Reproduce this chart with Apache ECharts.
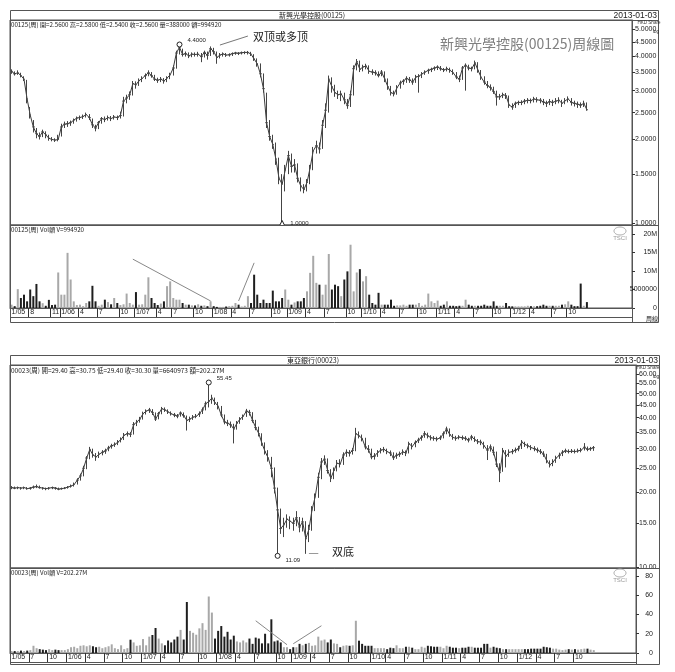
<!DOCTYPE html>
<html><head><meta charset="utf-8">
<script src="https://cdn.jsdelivr.net/npm/echarts@6/dist/echarts.min.js"></script>
<style>html,body{margin:0;padding:0;background:#fff}#c{width:675px;height:672px}</style>
</head><body><div id="c"></div>
<script>
// ===== 00125 新興光學控股 (half-month periods) =====
const topClose = [3.52,3.45,3.48,3.40,3.30,2.80,2.45,2.22,2.10,2.05, 2.13,2.08,2.02,2.00,1.99,2.00,2.22,2.27,2.28,2.30, 2.35,2.39,2.40,2.42,2.46,2.40,2.26,2.20,2.30,2.38, 2.36,2.40,2.38,2.41,2.40,2.44,2.75,2.82,2.90,3.18, 3.15,3.26,3.32,3.40,3.48,3.40,3.30,3.27,3.30,3.25, 3.33,3.42,3.62,4.10,4.30,4.05,4.08,4.00,4.06,4.05, 4.06,3.98,4.12,4.02,4.25,4.15,3.95,4.03,4.07,4.03, 4.04,4.08,4.10,4.09,4.11,4.12,4.12,4.06,3.90,3.75, 3.45,3.05,2.30,2.05,1.92,1.70,1.45,1.38,1.55,1.75, 1.60,1.62,1.45,1.36,1.32,1.40,1.58,1.82,1.90,1.85, 2.25,2.55,3.30,3.10,2.95,2.90,2.92,2.78,2.65,2.90, 3.60,3.82,3.58,3.65,3.68,3.52,3.50,3.48,3.40,3.50, 3.30,3.10,2.95,2.92,3.08,3.20,3.25,3.32,3.28,3.22, 3.36,3.38,3.45,3.50,3.55,3.58,3.62,3.65,3.60,3.56, 3.60,3.55,3.48,3.36,3.30,3.62,3.70,3.62,3.60,3.78, 3.55,3.35,3.22,3.13,3.08,2.98,2.85,2.85,2.90,2.88, 2.66,2.62,2.70,2.72,2.72,2.75,2.77,2.76,2.80,2.78, 2.77,2.73,2.70,2.74,2.72,2.75,2.77,2.70,2.76,2.80, 2.72,2.70,2.68,2.66,2.70,2.56];
const topHigh = [3.58,3.52,3.55,3.48,3.38,3.28,2.62,2.35,2.20,2.12, 2.17,2.14,2.08,2.04,2.02,2.08,2.28,2.32,2.33,2.34, 2.38,2.42,2.44,2.46,2.50,2.47,2.38,2.26,2.33,2.41, 2.42,2.44,2.43,2.45,2.44,2.52,2.85,2.90,2.98,3.25, 3.24,3.32,3.38,3.46,3.55,3.50,3.42,3.34,3.36,3.33, 3.38,3.48,3.70,4.18,4.40,4.25,4.15,4.12,4.12,4.12, 4.14,4.10,4.18,4.15,4.33,4.28,4.15,4.10,4.12,4.10, 4.09,4.12,4.14,4.13,4.15,4.16,4.17,4.14,4.06,3.92, 3.76,3.46,2.95,2.35,2.08,1.95,1.72,1.50,1.62,1.82, 1.78,1.70,1.64,1.46,1.38,1.44,1.62,1.88,1.98,1.95, 2.35,2.70,3.40,3.35,3.15,3.00,3.00,2.95,2.80,3.00, 3.70,3.90,3.85,3.72,3.75,3.70,3.58,3.55,3.52,3.56, 3.52,3.32,3.12,3.00,3.14,3.26,3.30,3.38,3.36,3.32, 3.42,3.44,3.50,3.55,3.60,3.63,3.67,3.70,3.68,3.62, 3.66,3.63,3.58,3.50,3.40,3.68,3.76,3.72,3.66,3.85, 3.80,3.56,3.38,3.25,3.16,3.10,3.00,2.92,2.95,2.94, 2.88,2.70,2.74,2.76,2.77,2.80,2.82,2.81,2.85,2.84, 2.82,2.80,2.76,2.80,2.78,2.82,2.84,2.78,2.82,2.86, 2.82,2.76,2.74,2.72,2.76,2.72];
const topLow = [3.45,3.40,3.42,3.35,3.25,2.70,2.38,2.12,2.02,2.00, 2.04,2.02,1.98,1.97,1.96,1.97,2.05,2.20,2.22,2.24, 2.28,2.32,2.35,2.37,2.40,2.35,2.20,2.14,2.18,2.28, 2.31,2.34,2.33,2.36,2.35,2.38,2.42,2.70,2.78,2.88, 3.05,3.12,3.22,3.30,3.38,3.34,3.25,3.20,3.22,3.18, 3.22,3.30,3.40,3.60,4.05,3.98,3.98,3.93,3.96,3.98, 3.98,3.80,3.95,3.88,4.00,4.05,3.75,3.92,3.98,3.97, 3.98,4.00,4.04,4.03,4.05,4.06,4.05,4.00,3.84,3.66, 3.35,2.95,2.20,1.98,1.85,1.62,1.38,1.00,1.30,1.50, 1.52,1.52,1.40,1.30,1.28,1.30,1.38,1.55,1.78,1.78, 1.85,2.20,2.50,2.95,2.85,2.80,2.75,2.68,2.58,2.62, 2.88,3.55,3.50,3.52,3.58,3.45,3.42,3.40,3.35,3.38, 3.22,3.02,2.88,2.86,2.90,3.05,3.15,3.20,3.20,3.15, 3.20,2.95,3.33,3.42,3.45,3.50,3.54,3.56,3.54,3.50, 3.52,3.48,3.42,3.30,3.22,3.28,3.00,3.55,3.52,3.58, 3.48,3.28,3.15,3.06,3.00,2.92,2.65,2.78,2.82,2.80, 2.60,2.56,2.60,2.66,2.66,2.68,2.70,2.70,2.72,2.72, 2.70,2.66,2.62,2.66,2.64,2.68,2.70,2.62,2.68,2.72, 2.65,2.63,2.60,2.60,2.62,2.54];
// volume, millions of shares
const topVol = [0.9,0.5,5.1,2.7,3.6,1.8,5.0,3.2,6.5,1.8, 1.3,0.6,2.2,0.8,0.9,9.6,3.6,3.6,14.9,7.7, 1.8,0.8,0.9,0.5,1.35,1.8,6.0,1.8,0.6,0.9, 2.25,1.6,1.0,2.7,1.35,0.8,1.0,3.9,1.35,0.9, 4.3,0.9,1.0,3.6,8.3,2.7,1.35,0.8,1.2,1.8, 5.9,7.2,2.7,2.25,2.25,1.35,0.9,0.9,0.7,0.7, 1.0,0.6,0.7,0.5,1.8,0.5,0.3,0.3,0.3,0.4, 0.5,0.6,1.35,0.9,0.4,0.6,3.2,1.35,9.0,3.6, 1.35,2.25,1.35,1.35,4.7,1.8,1.8,2.7,5.0,2.25, 0.9,1.5,1.8,1.8,2.7,4.5,9.5,14.1,6.8,6.3, 3.6,6.3,14.6,5.0,6.3,5.9,3.2,7.7,9.9,17.1, 4.5,9.6,10.5,7.2,8.6,3.6,1.35,0.9,4.1,0.9, 0.9,0.9,2.25,0.6,0.7,0.7,0.9,0.6,0.9,0.9, 0.9,1.35,0.6,0.9,3.9,1.8,1.35,2.0,0.6,0.9, 1.8,0.6,0.6,0.5,0.6,0.6,2.25,0.9,0.6,0.6, 0.6,0.6,0.9,0.6,0.6,1.8,0.6,0.6,0.6,1.35, 0.5,0.45,0.45,0.45,0.45,0.45,0.6,0.5,0.45,0.5, 0.6,0.9,0.6,0.6,0.6,0.6,0.6,0.9,1.0,1.8, 0.9,0.5,0.5,6.6,0.6,1.6];
const topTickSlots = [0,6,13,16,22,28,35,40,47,52,59,65,71,77,84,89,95,101,108,113,119,125,131,137,143,149,155,161,167,174,179];
const topTickLabels = ['1/05','8','11','1/06','4','7','10','1/07','4','7','10','1/08','4','7','10','1/09','4','7','10','1/10','4','7','10','1/11','4','7','10','1/12','4','7','10'];
const topPriceTicks = [1.0,1.5,2.0,2.5,3.0,3.5,4.0,4.5,5.0];
const topVolTicks = [0,5,10,15,20];
const topVolTickLabels = ['0','5000000','10M','15M','20M'];

// ===== 00023 東亞銀行 (half-month periods) =====
const botClose = [20.9,20.8,20.9,20.8,20.9,20.7,20.8,21.0,21.1,20.9, 20.8,20.7,20.8,20.9,20.8,20.6,20.7,20.8,21.0,21.2, 21.5,22.4,23.3,25.0,27.5,29.8,28.3,27.8,28.5,29.0, 29.4,30.2,30.8,31.2,31.9,32.7,34.0,34.5,34.3,37.5, 38.4,39.5,41.5,42.5,43.0,42.0,39.5,41.5,43.5,43.0, 42.2,41.5,41.0,40.6,41.8,40.8,39.0,39.5,40.2,40.5, 41.5,43.0,45.5,46.5,48.0,46.0,44.5,41.0,38.5,38.0, 37.5,36.0,38.0,39.5,40.5,42.5,42.0,39.0,36.5,34.5, 31.5,29.2,27.5,25.0,20.8,17.0,14.3,14.8,15.6,15.3, 15.0,15.8,14.5,15.2,13.0,14.2,17.0,19.2,23.0,26.5, 27.2,24.5,22.8,24.5,26.2,26.0,28.3,29.0,28.8,29.5, 34.5,33.8,33.0,30.5,29.8,27.8,28.0,29.0,29.6,29.8, 29.2,28.8,27.6,28.2,28.5,29.1,28.8,31.4,30.6,31.8, 32.5,33.3,34.5,33.8,33.2,33.0,32.8,33.2,34.5,36.0, 34.2,33.3,33.0,33.4,33.2,33.0,32.5,33.5,32.6,32.0, 31.9,30.8,29.6,30.5,29.0,26.0,24.0,29.5,28.0,29.0, 29.2,29.6,30.0,31.9,31.2,30.8,30.3,30.0,29.6,29.2, 28.5,26.8,25.8,26.5,27.5,28.2,29.0,29.4,29.2,29.3, 29.2,29.4,29.6,30.4,29.8,30.0,30.3];
const botHigh = [21.2,21.1,21.1,21.0,21.1,21.0,21.0,21.3,21.5,21.3, 21.0,20.9,21.0,21.1,21.0,20.9,20.9,21.0,21.2,21.5, 21.9,22.8,23.8,25.6,28.0,30.5,30.0,28.8,29.2,29.6, 30.0,30.8,31.4,31.8,32.5,33.3,34.7,35.2,35.0,38.4, 39.2,40.3,42.3,43.2,43.8,43.3,42.0,42.2,44.2,44.0, 43.2,42.4,41.8,41.4,42.4,42.0,40.8,40.4,41.0,41.4, 42.4,44.0,46.5,55.45,49.5,48.2,46.3,44.6,41.2,39.2, 38.6,37.8,38.8,40.2,41.2,43.4,43.0,42.1,39.2,36.8, 34.6,31.8,29.6,27.8,25.2,20.9,17.2,15.8,16.3,16.0, 15.8,16.8,15.9,15.8,15.3,14.8,17.6,19.8,24.0,27.5, 28.2,27.4,24.8,25.2,27.0,27.2,29.0,29.8,29.6,30.2, 36.4,35.2,34.2,33.2,31.0,30.0,28.8,29.6,30.2,30.5, 30.0,29.5,29.0,28.9,29.2,29.8,29.5,32.0,31.6,32.4, 33.2,34.0,35.3,34.8,34.0,33.7,33.5,33.9,35.2,36.8, 36.2,34.4,33.8,34.0,33.9,33.7,33.2,34.1,33.6,32.8, 32.6,32.0,31.0,31.2,30.6,29.2,26.2,30.2,29.6,29.8, 29.9,30.3,30.8,32.5,32.0,31.5,31.0,30.7,30.3,29.9, 29.3,28.6,26.9,27.2,28.1,28.9,29.6,30.0,29.8,29.9, 29.8,30.0,30.2,31.6,30.6,30.5,30.75];
const botLow = [20.6,20.6,20.6,20.5,20.6,20.5,20.5,20.7,20.8,20.7, 20.5,20.4,20.5,20.6,20.5,20.4,20.5,20.6,20.7,20.9, 21.1,21.5,22.3,23.2,24.8,27.2,27.6,26.8,27.5,28.2, 28.6,29.3,30.0,30.5,31.0,31.8,32.5,33.6,33.4,34.2, 37.0,38.2,39.3,41.2,41.8,41.0,38.8,39.4,41.3,42.2, 41.4,40.8,40.2,39.8,40.4,40.0,35.5,38.4,39.2,39.8, 40.3,41.4,42.8,44.0,45.5,45.0,43.2,40.2,37.6,37.0, 36.4,31.5,35.8,37.8,39.2,40.3,40.8,38.2,35.6,33.6, 30.8,28.4,26.6,23.0,19.8,11.09,13.6,13.2,14.4,14.2, 14.0,14.6,13.8,13.9,11.3,12.6,14.0,16.8,19.0,22.6, 25.8,23.8,22.0,22.6,24.3,25.2,25.8,27.8,27.9,28.4, 29.3,33.0,32.1,29.8,28.9,27.2,27.1,27.8,28.7,29.0, 28.5,28.0,27.0,27.3,27.8,28.3,28.0,28.7,29.8,30.4, 31.6,32.3,33.2,33.0,32.4,32.3,32.1,32.5,33.0,34.3, 33.5,32.6,32.3,32.7,32.5,32.3,31.8,32.4,31.9,31.3, 31.0,30.0,27.0,29.2,28.2,25.3,22.0,24.2,25.2,27.8, 28.5,28.9,29.3,29.9,30.5,30.1,29.6,29.3,28.9,28.5, 27.8,26.2,25.2,25.5,26.3,27.3,28.0,28.8,28.7,28.8, 28.7,28.9,29.0,29.5,29.3,29.4,29.4];
const botVol = [2,2,2,2.5,2,2.5,3,7.5,5,4, 3.5,3,4,3,3.5,3,3,3,4,6, 6.5,5,7.5,8,7,8,7,6,6.5,5, 6,7,9,5,4,8,4,5,13.8,11, 7.5,8,14.5,8,17,18.7,26,15,10,8, 13,11,14,17,24,14,53,23,21,19, 25.6,31,24,58.7,42,15,23,28,17,22, 14,18,12,11,13,11,15,9.5,16,15, 10,20,10,35,12,13,11,6,6,4, 6,6,9.5,8,9.5,10.5,7.5,8,17,13, 14,11,14,10,9.5,6,7.5,8,7.5,8, 33.5,12.8,9.5,7.5,7.5,7.5,5,5,5,5, 4,5.5,5,8,5,5,6.5,6.5,5.5,4, 4,6.5,5.5,7.5,7,6.5,6.5,6.5,5,7.5, 6.5,5.5,5.5,5,5.5,5.5,6.5,6.5,5.5,5.5, 5.5,9.5,9.5,5.5,6.5,5.5,5,4,4,4, 4,4,4,4,4,4,4.5,4.5,4.5,4.5, 6.5,6,5.5,4.5,4.5,3.5,3,3.5,4,3.5, 4,3.5,4,4.5,4.5,3.5,3];
const botTickSlots = [0,6,12,18,24,30,36,42,48,54,60,66,72,78,85,90,96,102,108,115,120,126,132,138,144,150,156,162,168,174,180];
const botTickLabels = ['1/05','7','10','1/06','4','7','10','1/07','4','7','10','1/08','4','7','10','1/09','4','7','10','1/10','4','7','10','1/11','4','7','10','1/12','4','7','10'];
const botPriceTicks = [10,15,20,25,30,35,40,45,50,55,60];
const botVolTicks = [0,20,40,60,80];
const botVolTickLabels = ['0','20','40','60','80'];

// ===== build =====
const ln = Math.log;
const NSLOT = 200;
const cats = Array.from({length: NSLOT}, (_, i) => 'P' + i);
const SANS = 'Liberation Sans';
const TC = '"Noto Sans CJK TC"';
const SC = '"Noto Sans CJK SC"';

function xAxisDef(gi, showLabels, slots, labels) {
  const set = new Set(slots); const map = {};
  slots.forEach((s, k) => { map[s] = labels[k]; });
  return {
    type: 'category', gridIndex: gi, data: cats, boundaryGap: true,
    axisLine: {show: showLabels, lineStyle: {color: '#555'}},
    axisTick: {show: showLabels, interval: (i) => set.has(i), length: 9, lineStyle: {color: '#333'}},
    axisLabel: {show: showLabels, interval: (i) => set.has(i), formatter: (v, i) => map[i] || '',
      align: 'left', margin: 1, fontSize: 7, color: '#222', fontFamily: SANS},
    splitLine: {show: false}
  };
}
function priceAxis(gi, lo, hi, ticks, dec) {
  const cv = ticks.map(ln);
  return {type: 'value', gridIndex: gi, position: 'right', min: ln(lo), max: ln(hi), scale: true,
    axisLine: {show: true, lineStyle: {color: '#555'}},
    axisTick: {show: true, length: 3, customValues: cv, lineStyle: {color: '#333'}},
    axisLabel: {customValues: cv, formatter: (v) => Math.exp(v).toFixed(dec), fontSize: 7, margin: 3, color: '#222', fontFamily: SANS},
    splitLine: {show: false}};
}
function volAxis(gi, max, ticks, labels, margin) {
  const map = {}; ticks.forEach((t, k) => { map[t] = labels[k]; });
  return {type: 'value', gridIndex: gi, position: 'right', min: 0, max: max,
    axisLine: {show: true, lineStyle: {color: '#555'}},
    axisTick: {show: true, length: 3, customValues: ticks, lineStyle: {color: '#333'}},
    axisLabel: {customValues: ticks, formatter: (v) => (map[v] !== undefined ? map[v] : ''), align: 'right', margin: margin, fontSize: 7, color: '#222', fontFamily: SANS},
    splitLine: {show: false}};
}
function priceSeries(close, high, low, xi, yi, markPoint, markLine) {
  return [
    {type: 'line', xAxisIndex: xi, yAxisIndex: yi, data: close.map((v) => ln(v)), symbol: 'none',
      lineStyle: {color: '#3a3a3a', width: 1}, silent: true, z: 3},
    {type: 'candlestick', xAxisIndex: xi, yAxisIndex: yi, barWidth: 2,
      data: close.map((c, i) => [ln(c), ln(c), ln(low[i]), ln(high[i])]),
      itemStyle: {color: '#444', color0: '#444', borderColor: '#444', borderColor0: '#444', borderWidth: 1},
      markPoint: markPoint, markLine: markLine, z: 4}
  ];
}
function volSeries(vol, close, xi, yi, markLine) {
  return {type: 'bar', xAxisIndex: xi, yAxisIndex: yi, barWidth: 2,
    data: vol.map((v, i) => ({value: v, itemStyle: {color: (i === 0 || close[i] >= close[i - 1]) ? '#a8a8a8' : '#1e1e1e'}})),
    markLine: markLine};
}
function pt(coord, sym, text, pos, off) {
  return {coord: coord, symbol: sym, symbolSize: 5,
    itemStyle: {color: '#fff', borderColor: '#222', borderWidth: 1},
    label: {show: true, formatter: text, position: pos, offset: off, fontSize: 6, color: '#222', fontFamily: SANS}};
}
function seg(a, b, color) {
  return [{coord: a, lineStyle: {color: color, width: 1, type: 'solid'}}, {coord: b}];
}
const mlBase = {symbol: ['none', 'none'], silent: true, label: {show: false}, animation: false};

const topMP = {animation: false, data: [
  pt([54, ln(4.40)], 'circle', '4.4000', 'right', [0, -4]),
  pt([87, ln(1.00)], 'triangle', '1.0000', 'right', [0, 0])
]};
const topML = Object.assign({}, mlBase, {data: [seg([67, ln(4.38)], [76, ln(4.72)], '#777')]});
const botMP = {animation: false, data: [
  pt([63, ln(55.45)], 'circle', '55.45', 'right', [0, -4]),
  pt([85, ln(11.09)], 'circle', '11.09', 'right', [0, 4])
]};
const botML = Object.assign({}, mlBase, {data: [seg([95, ln(11.39)], [98, ln(11.39)], '#999')]});
const topVolML = Object.assign({}, mlBase, {data: [seg([39, 13.2], [64, 1.9], '#888'), seg([73, 1.9], [78, 12.2], '#888')]});
const botVolML = Object.assign({}, mlBase, {data: [seg([78, 33.5], [88, 8.6], '#888'), seg([90, 9.6], [99, 28.3], '#888')]});

function txt(x, y, text, size, fam, color, align) {
  return {type: 'text', x: x, y: y, z: 50, silent: true,
    style: {text: text, fontSize: size, fontFamily: fam, fill: color || '#222',
      align: align || 'left', textAlign: align || 'left', verticalAlign: 'middle', textVerticalAlign: 'middle'}};
}
function ln2(x1, y1, x2, y2) {
  return {type: 'line', z: 40, silent: true, shape: {x1: x1, y1: y1, x2: x2, y2: y2}, style: {stroke: '#555', lineWidth: 1}};
}
const graphics = [
  {type: 'rect', z: 40, silent: true, shape: {x: 10.5, y: 10.5, width: 648, height: 312}, style: {fill: 'none', stroke: '#555', lineWidth: 1}},
  ln2(10, 20.5, 658, 20.5), ln2(10, 225.5, 658, 225.5), ln2(10, 317.5, 632, 317.5), ln2(632.5, 308, 632.5, 322),
  txt(312, 15.5, '新興光學控股(00125)', 7, TC, '#222', 'center'),
  txt(657, 15.5, '2013-01-03', 8.5, SANS, '#222', 'right'),
  txt(11, 24.5, '00125(周) 開=2.5600 高=2.5800 低=2.5400 收=2.5600 量=388000 額=994920', 6.2, TC, '#222'),
  txt(11, 229.5, '00125(周) Vol額 V=994920', 6.2, TC, '#222'),
  txt(253, 37, '双顶或多顶', 11, SC, '#222'),
  txt(440, 44, '新興光學控股(00125)周線圖', 14, TC, '#808080'),
  txt(649, 23, 'HKD Share', 4.5, SANS, '#333', 'center'),
  txt(656, 31.5, 'log', 5, SANS, '#333', 'center'),
  {type: 'ellipse', z: 40, silent: true, shape: {cx: 620, cy: 231, rx: 6, ry: 4}, style: {fill: 'none', stroke: '#aaa', lineWidth: 1}},
  txt(620, 238, 'TSCI', 6, SANS, '#999', 'center'),
  txt(652, 318.5, '周線', 6, TC, '#222', 'center'),

  {type: 'rect', z: 40, silent: true, shape: {x: 10.5, y: 355.5, width: 649, height: 309}, style: {fill: 'none', stroke: '#555', lineWidth: 1}},
  ln2(10, 365.5, 659, 365.5), ln2(10, 568.5, 659, 568.5), ln2(10, 662.5, 636, 662.5), ln2(636.5, 653, 636.5, 665),
  txt(313, 360.5, '東亞銀行(00023)', 7, TC, '#222', 'center'),
  txt(658, 360.5, '2013-01-03', 8.5, SANS, '#222', 'right'),
  txt(11, 370.5, '00023(周) 開=29.40 高=30.75 低=29.40 收=30.30 量=6640973 額=202.27M', 6.5, TC, '#222'),
  txt(11, 573, '00023(周) Vol額 V=202.27M', 6.2, TC, '#222'),
  txt(332, 552, '双底', 11, SC, '#222'),
  txt(648, 367.5, 'HKD Share', 4.5, SANS, '#333', 'center'),
  txt(656, 377, 'log', 5, SANS, '#333', 'center'),
  {type: 'ellipse', z: 40, silent: true, shape: {cx: 620, cy: 573, rx: 6, ry: 4}, style: {fill: 'none', stroke: '#aaa', lineWidth: 1}},
  txt(620, 580, 'TSCI', 6, SANS, '#999', 'center')
];

const chart = echarts.init(document.getElementById('c'), null, {renderer: 'canvas'});
chart.setOption({
  backgroundColor: '#fff',
  animation: false,
  grid: [
    {left: 10, right: 43, top: 20, height: 205, show: true, borderColor: '#555', borderWidth: 1},
    {left: 10, right: 43, top: 225, height: 83, show: true, borderColor: '#555', borderWidth: 1},
    {left: 10, right: 39, top: 365, height: 203, show: true, borderColor: '#555', borderWidth: 1},
    {left: 10, right: 39, top: 568, height: 85, show: true, borderColor: '#555', borderWidth: 1}
  ],
  xAxis: [
    xAxisDef(0, false, topTickSlots, topTickLabels),
    xAxisDef(1, true, topTickSlots, topTickLabels),
    xAxisDef(2, false, botTickSlots, botTickLabels),
    xAxisDef(3, true, botTickSlots, botTickLabels)
  ],
  yAxis: [
    priceAxis(0, 0.9836, 5.392, topPriceTicks, 4),
    volAxis(1, 22.43, topVolTicks, topVolTickLabels, 25),
    priceAxis(2, 9.907, 65.24, botPriceTicks, 2),
    volAxis(3, 88.3, botVolTicks, botVolTickLabels, 17)
  ],
  series: [].concat(
    priceSeries(topClose, topHigh, topLow, 0, 0, topMP, topML),
    [volSeries(topVol, topClose, 1, 1, topVolML)],
    priceSeries(botClose, botHigh, botLow, 2, 2, botMP, botML),
    [volSeries(botVol, botClose, 3, 3, botVolML)]
  ),
  graphic: graphics
});
</script></body></html>
